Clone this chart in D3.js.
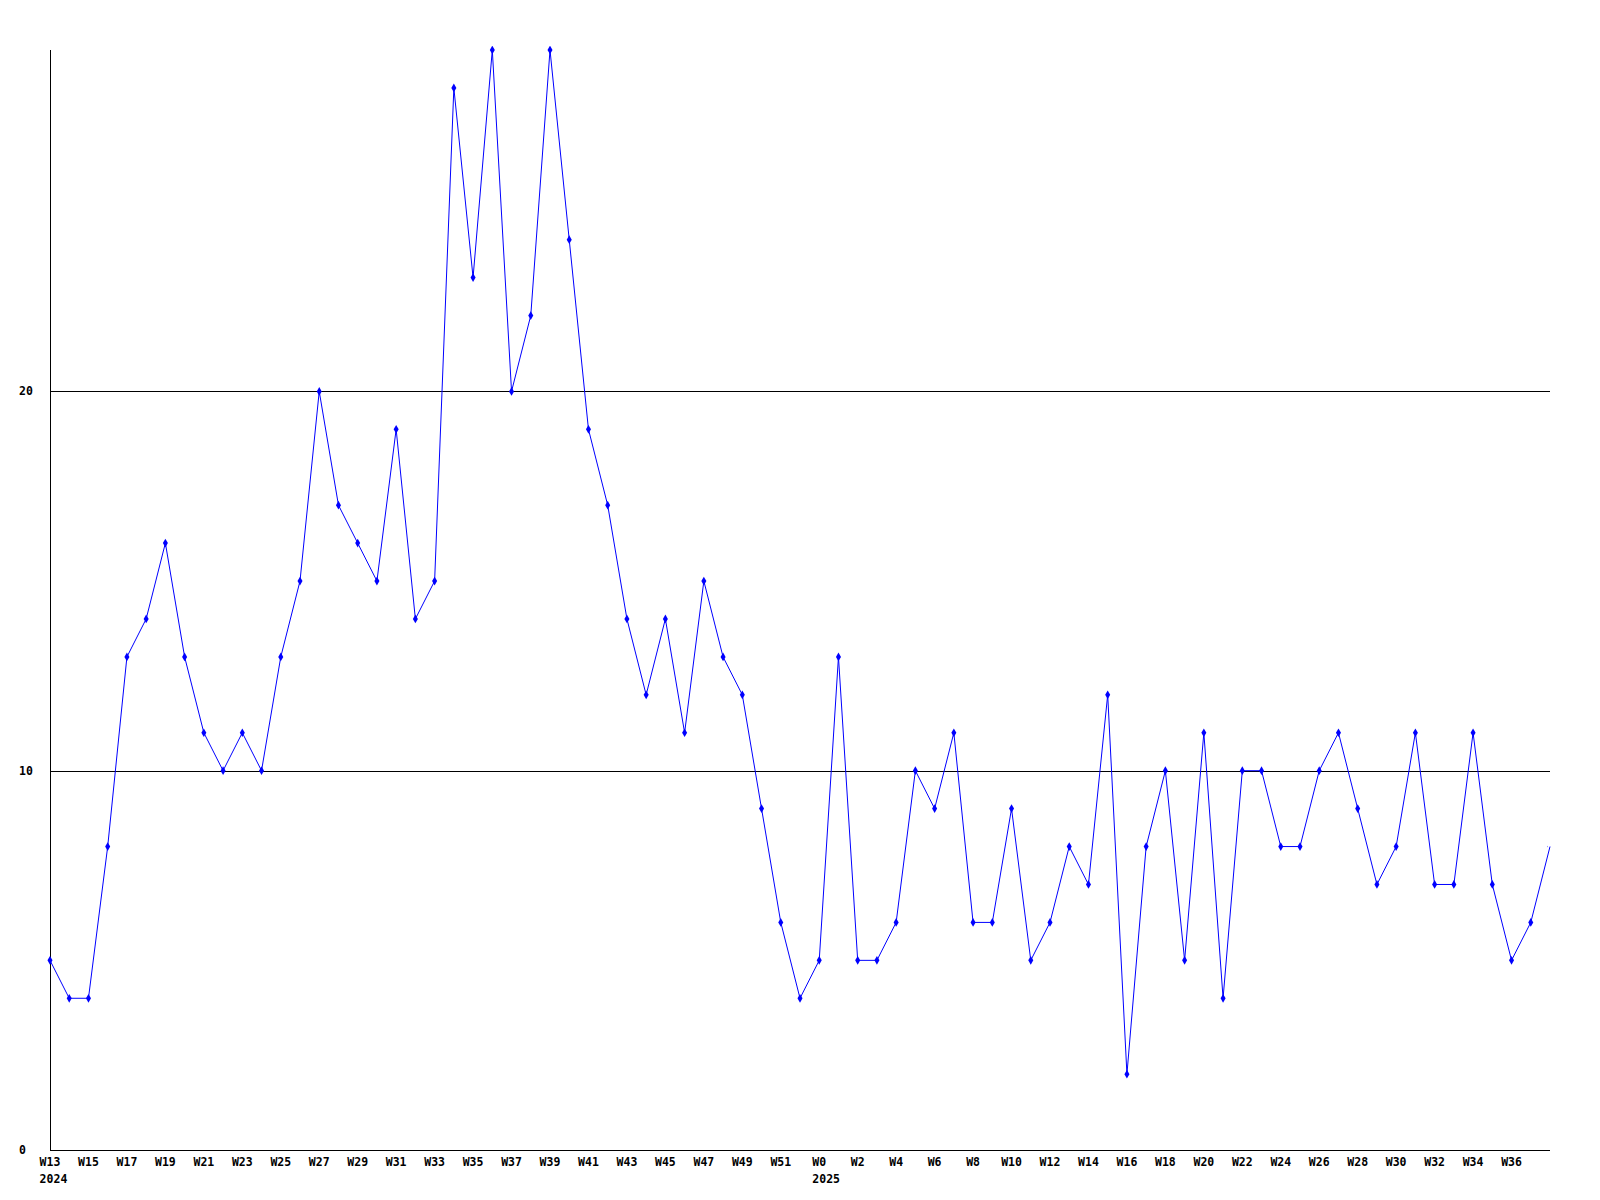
<!DOCTYPE html>
<html>
<head>
<meta charset="utf-8" />
<title>Weekly count</title>
<style>
body { margin: 0; background: #fff; }
text { font-family: "DejaVu Sans Mono", monospace; font-weight: bold; font-size: 11.5px; fill: #000; }
</style>
</head>
<body>
<div id="chart"></div>
<script src="https://d3js.org/d3.v7.min.js"></script>
<script>
// one entry per week, W13 2024 .. W38 2025
var weeks = [
  'W13','W14','W15','W16','W17','W18','W19','W20','W21','W22','W23','W24','W25','W26',
  'W27','W28','W29','W30','W31','W32','W33','W34','W35','W36','W37','W38','W39','W40',
  'W41','W42','W43','W44','W45','W46','W47','W48','W49','W50','W51','W52',
  'W0','W1','W2','W3','W4','W5','W6','W7','W8','W9','W10','W11','W12','W13','W14',
  'W15','W16','W17','W18','W19','W20','W21','W22','W23','W24','W25','W26','W27','W28',
  'W29','W30','W31','W32','W33','W34','W35','W36','W37','W38'
];
var years = [
  2024,2024,2024,2024,2024,2024,2024,2024,2024,2024,2024,2024,2024,2024,
  2024,2024,2024,2024,2024,2024,2024,2024,2024,2024,2024,2024,2024,2024,
  2024,2024,2024,2024,2024,2024,2024,2024,2024,2024,2024,2024,
  2025,2025,2025,2025,2025,2025,2025,2025,2025,2025,2025,2025,2025,2025,2025,
  2025,2025,2025,2025,2025,2025,2025,2025,2025,2025,2025,2025,2025,2025,
  2025,2025,2025,2025,2025,2025,2025,2025,2025,2025
];
var counts = [
  5,4,4,8,13,14,16,13,11,10,11,10,13,15,
  20,17,16,15,19,14,15,28,23,29,20,22,29,24,
  19,17,14,12,14,11,15,13,12,9,6,4,
  5,13,5,5,6,10,9,11,6,6,9,5,6,8,7,
  12,2,8,10,5,11,4,10,10,8,8,10,11,9,
  7,8,11,7,7,11,7,5,6,8
];
// labels written under the axis (every other week, as in the source)
var tickLabels = [
  'W13','W15','W17','W19','W21','W23','W25','W27','W29','W31','W33','W35','W37','W39',
  'W41','W43','W45','W47','W49','W51','W0','W2','W4','W6','W8','W10','W12','W14',
  'W16','W18','W20','W22','W24','W26','W28','W30','W32','W34','W36'
];
var yTicks = [0, 10, 20];
var yMax = 29;

(function(d3) {
'use strict';
var width = 1600, height = 1200;
var m = { left: 50, right: 1550, top: 50, bottom: 1150 };

var data = weeks.map(function(w, i) {
  return { key: years[i] + '-' + w, week: w, year: years[i], value: counts[i] };
});

var svg = d3.select('#chart').append('svg')
  .attr('width', width)
  .attr('height', height);

var x = d3.scalePoint()
  .domain(data.map(function(d) { return d.key; }))
  .range([m.left, m.right]);
var y = d3.scaleLinear()
  .domain([0, yMax])
  .range([m.bottom, m.top]);

svg.append('defs').append('clipPath').attr('id', 'plot')
  .append('rect').attr('x', m.left - 4).attr('y', m.top - 4)
  .attr('width', m.right - m.left + 2).attr('height', m.bottom - m.top + 8);

// grid lines
svg.selectAll('.grid')
  .data(yTicks.filter(function(t) { return t > 0; }))
  .enter().append('line')
  .attr('x1', m.left).attr('x2', m.right)
  .attr('y1', function(d) { return Math.round(y(d)) + 0.5; })
  .attr('y2', function(d) { return Math.round(y(d)) + 0.5; })
  .attr('stroke', '#000').attr('stroke-width', 1);

// axes
svg.append('line')
  .attr('x1', m.left + 0.5).attr('x2', m.left + 0.5)
  .attr('y1', m.top).attr('y2', m.bottom + 1)
  .attr('stroke', '#000').attr('stroke-width', 1);
svg.append('line')
  .attr('x1', m.left).attr('x2', m.right)
  .attr('y1', m.bottom + 0.5).attr('y2', m.bottom + 0.5)
  .attr('stroke', '#000').attr('stroke-width', 1);

svg.selectAll('.ylab')
  .data(yTicks)
  .enter().append('text')
  .attr('x', 19)
  .attr('y', function(d) { return y(d); })
  .attr('dy', '0.35em')
  .text(function(d) { return d; });

// walk the weeks in order and pick up the tick labels one after another
var next = 0;
data.forEach(function(d, i) {
  if (next >= tickLabels.length || d.week !== tickLabels[next]) return;
  next++;
  var t = svg.append('text')
    .attr('x', x(d.key))
    .attr('y', 1162)
    .attr('dy', '0.35em')
    .attr('text-anchor', 'middle')
    .text(d.week);
  if (i === 0 || d.year !== data[i - 1].year) {
    var w = t.node().getComputedTextLength();
    svg.append('text')
      .attr('x', x(d.key) - w / 2)
      .attr('y', 1179)
      .attr('dy', '0.35em')
      .text(d.year);
  }
});

// series
var line = d3.line()
  .x(function(d) { return x(d.key); })
  .y(function(d) { return y(d.value); });

svg.append('path')
  .datum(data)
  .attr('d', line)
  .attr('fill', 'none')
  .attr('stroke', '#0000ff')
  .attr('stroke-width', 1);

svg.append('g').attr('clip-path', 'url(#plot)')
  .selectAll('path.mark')
  .data(data)
  .enter().append('path')
  .attr('class', 'mark')
  .attr('transform', function(d) { return 'translate(' + x(d.key) + ',' + y(d.value) + ')'; })
  .attr('d', d3.symbol().type(d3.symbolDiamond).size(22))
  .attr('fill', '#0000ff');
})(window.d3);
</script>
</body>
</html>
